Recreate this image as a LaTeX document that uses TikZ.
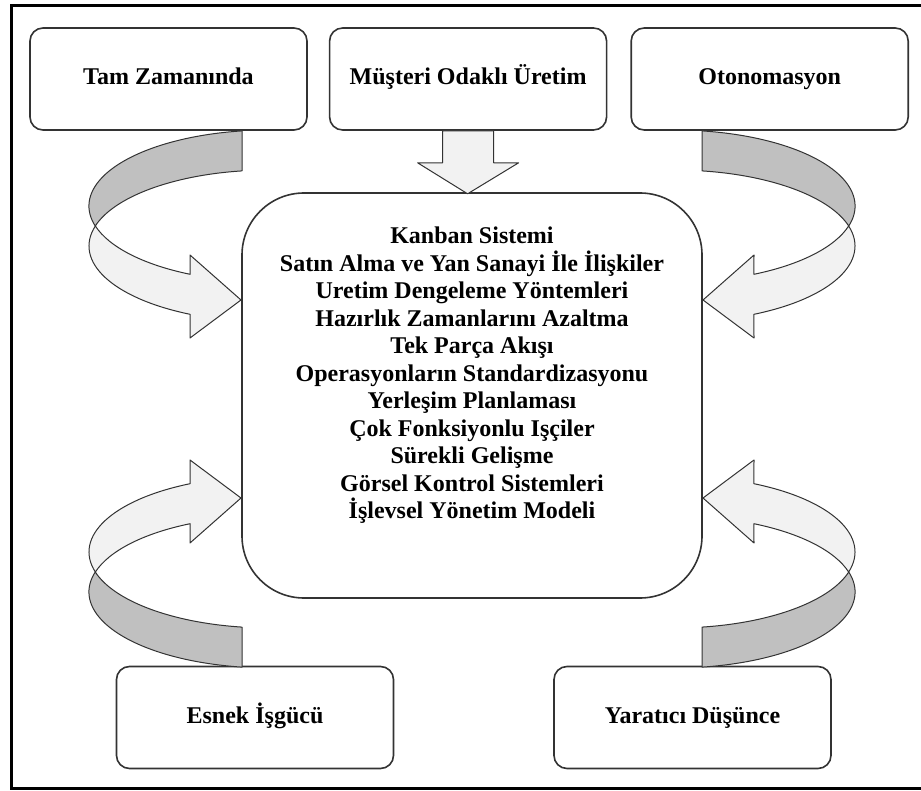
\documentclass[tikz,border=0pt]{standalone}
\usepackage{fontspec}
\setmainfont{Liberation Serif}
\usetikzlibrary{positioning}

\definecolor{bandback}{HTML}{C0C0C0}
\definecolor{bandfront}{HTML}{F2F2F2}
\definecolor{edgegray}{HTML}{333333}

% one twisted band, drawn round the centre of the picture
\newcommand{\twistband}{%
  \filldraw[band, fill=bandback] (-230,-268.1)
    arc[start angle=261.4, end angle=164.74, x radius=180, y radius=76]
    arc[start angle=195.26, end angle=261.4, x radius=180, y radius=76] -- cycle;
  \filldraw[band, fill=bandfront] (-376.65,-173)
    arc[start angle=195.26, end angle=116, x radius=180, y radius=76]
    -- (-282,-61) -- (-231,-99) -- (-282,-144) -- (-281.9,-124.7)
    arc[start angle=116, end angle=164.74, x radius=180, y radius=76] -- cycle;
}

\begin{document}
\begin{tikzpicture}[
  x=0.5pt, y=-0.5pt,
  node distance=10.5pt,
  box/.style={draw=edgegray, line width=0.8pt, rounded corners=6.5pt,
              minimum width=138.5pt, minimum height=51pt, inner sep=0pt,
              text height=8.4pt, text depth=2.6pt,
              font=\fontsize{12}{13.75}\selectfont\bfseries, fill=white},
  hubbox/.style={draw=edgegray, line width=0.8pt, rounded corners=31pt,
              minimum width=230pt, minimum height=202.5pt, inner sep=0pt},
  hubtext/.style={align=center, inner sep=0pt,
              font=\fontsize{12}{13.75}\selectfont\bfseries},
  band/.style={draw=edgegray, line width=0.5pt, line join=round},
  frame/.style={line width=1.5pt}
]
\useasboundingbox (0,0) rectangle (921,791);

\draw[frame] (921,6) -- (11,6) -- (11,788) -- (921,788);

\node[box] (jit) at (168.5,79) {Tam Zamanında};
\node[box, right=of jit] (mus) {Müşteri Odaklı Üretim};
\node[box, right=11.5pt of mus] (oto) {Otonomasyon};
\node[box] (esnek) at (255,717.5) {Esnek İşgücü};
\node[box] (yarat) at (692.5,717.5) {Yaratıcı Düşünce};

\node[hubbox] (hub) at (472,395.5) {};
\node[hubtext] (list) at (472,375.5) {Kanban Sistemi\\
  Satın Alma ve Yan Sanayi İle İlişkiler\\
  Uretim Dengeleme Yöntemleri\\
  Hazırlık Zamanlarını Azaltma\\
  Tek Parça Akışı\\
  Operasyonların Standardizasyonu\\
  Yerleşim Planlaması\\
  Çok Fonksiyonlu Işçiler\\
  Sürekli Gelişme\\
  Görsel Kontrol Sistemleri\\
  İşlevsel Yönetim Modeli};

\filldraw[band, fill=bandfront] ([xshift=-12.75pt]mus.south) -- ++(51,0) -- ++(0,32)
  -- ++(25,0) -- ++(-51,31) -- ++(-50,-31) -- ++(25,0) -- cycle;

\begin{scope}[shift={(472,399)}]
  \twistband
\end{scope}
\begin{scope}[shift={(472,399)}, xscale=-1]
  \twistband
\end{scope}
\begin{scope}[shift={(472,399)}, yscale=-1]
  \twistband
\end{scope}
\begin{scope}[shift={(472,399)}, xscale=-1, yscale=-1]
  \twistband
\end{scope}
\end{tikzpicture}
\end{document}
